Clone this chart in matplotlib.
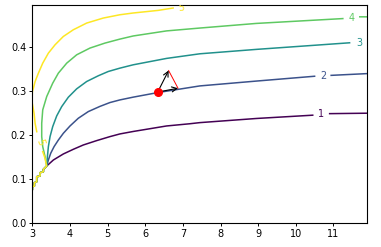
import numpy as np
import matplotlib
matplotlib.use("Agg")
import matplotlib.pyplot as plt

# ── Data ──────────────────────────────────────────────────────────────────────

levels = [1, 2, 3, 4, 5]

# stepped lower-left edge shared by every contour (bottom -> meeting point)
edge_x = [3.0, 3.0, 3.053, 3.053, 3.115, 3.115, 3.203, 3.203, 3.292, 3.292, 3.38]
edge_y = [0.076, 0.082, 0.0835, 0.091, 0.0933, 0.1047, 0.1062, 0.1138, 0.1161, 0.1214, 0.129]

# nan marks the gap left for the inline label
lvl1_x = [3.558, 3.823, 4.088, 4.353, 4.707, 5.06, 5.326, 5.68, 6.565, 7.18, 7.45,
          8.95, 10.45, np.nan, 10.9, 11.9]
lvl1_y = [0.1427, 0.1564, 0.167, 0.1768, 0.1867, 0.1958, 0.2019, 0.2075, 0.220, 0.225, 0.2276,
          0.237, 0.2445, np.nan, 0.248, 0.249]

lvl2_x = [3.425, 3.487, 3.576, 3.69, 3.823, 4.0, 4.22, 4.486, 4.796, 5.06, 5.326, 5.68,
          6.34, 7.45, 8.95, 10.5, np.nan, 10.94, 11.9]
lvl2_y = [0.1427, 0.158, 0.173, 0.188, 0.2034, 0.220, 0.2375, 0.2527, 0.2645, 0.2732, 0.2792, 0.2855,
          0.296, 0.311, 0.322, 0.333, np.nan, 0.335, 0.339]

lvl3_x = [3.399, 3.425, 3.47, 3.54, 3.646, 3.779, 3.955, 4.176, 4.442, 4.75, 5.017, 5.326,
          5.68, 6.565, 7.45, 8.95, 11.43]
lvl3_y = [0.150, 0.173, 0.196, 0.2185, 0.2428, 0.264, 0.2853, 0.3043, 0.321, 0.334, 0.3438, 0.3514,
          0.359, 0.3735, 0.384, 0.394, 0.409]

lvl4_x = [3.337, 3.275, 3.248, 3.248, 3.275, 3.381, 3.54, 3.69, 3.912, 4.177, 4.53, 4.928,
          5.326, 5.68, 6.565, 7.45, 8.95, 11.25, np.nan, 11.7, 11.9]
lvl4_y = [0.150, 0.173, 0.196, 0.226, 0.2566, 0.2869, 0.3172, 0.340, 0.3627, 0.3817, 0.397, 0.4083,
          0.4174, 0.4245, 0.436, 0.4425, 0.453, 0.464, np.nan, 0.468, 0.468]

lvl5_x = [3.363, 3.337, 3.275, np.nan, 3.116, 3.072, 3.045, 2.99, 3.0, 3.027, 3.072, 3.16,
          3.275, 3.425, 3.602, 3.823, 4.088, 4.442, 4.884, 5.326, 5.68, 6.34, 6.74]
lvl5_y = [0.135, 0.1465, 0.1617, np.nan, 0.207, 0.226, 0.249, 0.275, 0.298, 0.306, 0.321, 0.340,
          0.3627, 0.3855, 0.4044, 0.4234, 0.4386, 0.4538, 0.4652, 0.4727, 0.4767, 0.4826, 0.488]

curves_x = [lvl1_x, lvl2_x, lvl3_x, lvl4_x, lvl5_x]
curves_y = [lvl1_y, lvl2_y, lvl3_y, lvl4_y, lvl5_y]

# inline label positions and angles
label_x = [10.68, 10.72, 11.7, 11.48, 6.96, 3.20]
label_y = [0.247, 0.334, 0.408, 0.466, 0.489, 0.183]
label_txt = ["1", "2", "3", "4", "5", "5"]
label_rot = [1, 1, 1, 1, 4, -73]

point = (6.33, 0.297)
vec_a = (6.87, 0.3058)
vec_b = (6.62, 0.346)

# ── Figure ────────────────────────────────────────────────────────────────────

fig = plt.figure(figsize=(3.81, 2.47), dpi=100)
ax = fig.add_axes([0.085, 0.098, 0.879, 0.882])

cmap = plt.get_cmap("viridis")
colours = [cmap((lv - levels[0]) / (levels[-1] - levels[0])) for lv in levels]

for cx, cy, col in zip(curves_x, curves_y, colours):
    ax.plot(edge_x + cx, edge_y + cy, color=col, lw=1.1)

for lx, ly, txt, rot in zip(label_x, label_y, label_txt, label_rot):
    ax.text(lx, ly, txt, color=colours[int(txt) - 1], fontsize=7, rotation=rot,
            ha="center", va="center", clip_on=True)

ax.plot(*point, "o", color="red", ms=5.5, zorder=5)
for tip in (vec_a, vec_b):
    ax.annotate("", xy=tip, xytext=point,
                arrowprops=dict(arrowstyle="->", color="black", lw=0.8,
                                mutation_scale=9, shrinkA=0, shrinkB=0))
ax.plot([vec_a[0], vec_b[0]], [vec_a[1], vec_b[1]], color="red", lw=0.7)

ax.set_xlim(3, 11.9)
ax.set_ylim(0, 0.495)
ax.set_xticks(range(3, 12))
ax.set_yticks([0.0, 0.1, 0.2, 0.3, 0.4])
ax.tick_params(labelsize=7, length=2.5, width=0.7, pad=2)
for s in ax.spines.values():
    s.set_linewidth(0.8)

fig.savefig("out.png", dpi=100)
